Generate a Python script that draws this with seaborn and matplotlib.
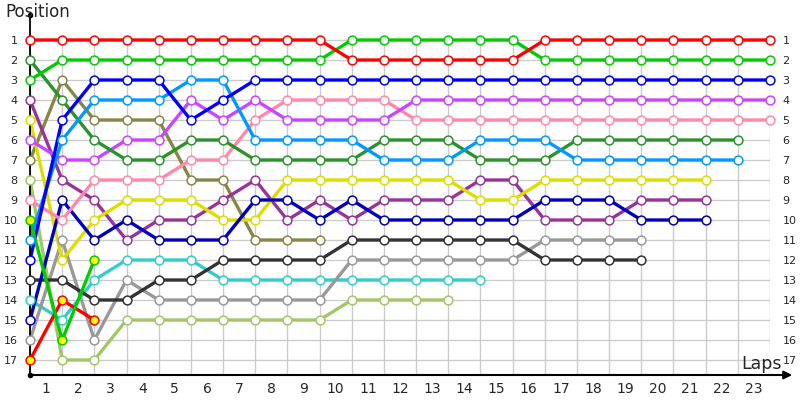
import numpy as np
import pandas as pd
import matplotlib
matplotlib.use('Agg')
import matplotlib.pyplot as plt
import seaborn as sns

sns.set_theme(style='white')
plt.rcParams['font.family'] = ['DejaVu Sans']

# position of each driver at every lap (index 0 = start grid)
red = [1, 1, 1, 1, 1, 1, 1, 1, 1, 1, 2, 2, 2, 2, 2, 2, 1, 1, 1, 1, 1, 1, 1, 1]
green = [3, 2, 2, 2, 2, 2, 2, 2, 2, 2, 1, 1, 1, 1, 1, 1, 2, 2, 2, 2, 2, 2, 2, 2]
blue = [12, 5, 3, 3, 3, 5, 4, 3, 3, 3, 3, 3, 3, 3, 3, 3, 3, 3, 3, 3, 3, 3, 3, 3]
navy = [15, 9, 11, 10, 11, 11, 11, 9, 9, 10, 9, 10, 10, 10, 10, 10, 9, 9, 9, 10, 10, 10]
light_blue = [11, 6, 4, 4, 4, 3, 3, 6, 6, 6, 6, 7, 7, 7, 6, 6, 6, 7, 7, 7, 7, 7, 7]
dark_green = [2, 4, 6, 7, 7, 6, 6, 7, 7, 7, 7, 6, 6, 6, 7, 7, 7, 6, 6, 6, 6, 6, 6]
violet = [6, 7, 7, 6, 6, 4, 5, 4, 5, 5, 5, 5, 4, 4, 4, 4, 4, 4, 4, 4, 4, 4, 4, 4]
pink = [9, 10, 8, 8, 8, 7, 7, 5, 4, 4, 4, 4, 5, 5, 5, 5, 5, 5, 5, 5, 5, 5, 5, 5]
olive = [7, 3, 5, 5, 5, 8, 8, 11, 11, 11]
yellow = [5, 12, 10, 9, 9, 9, 10, 10, 8, 8, 8, 8, 8, 8, 9, 9, 8, 8, 8, 8, 8, 8]
dark_purple = [4, 8, 9, 11, 10, 10, 9, 8, 10, 9, 10, 9, 9, 9, 8, 8, 10, 10, 10, 9, 9, 9]
dark_gray = [13, 13, 14, 14, 13, 13, 12, 12, 12, 12, 11, 11, 11, 11, 11, 11, 12, 12, 12, 12]
gray = [16, 11, 16, 13, 14, 14, 14, 14, 14, 14, 12, 12, 12, 12, 12, 12, 11, 11, 11, 11]
cyan = [14, 15, 13, 12, 12, 12, 13, 13, 13, 13, 13, 13, 13, 13, 13]
light_green = [8, 17, 17, 15, 15, 15, 15, 15, 15, 15, 14, 14, 14, 14]
red_b = [17, 14, 15]
green_b = [10, 16, 12]

drivers = [
    (light_green, '#a0c864', 'white'),
    (cyan, '#33cccc', 'white'),
    (gray, '#999999', 'white'),
    (dark_gray, '#333333', 'white'),
    (olive, '#868648', 'white'),
    (dark_purple, '#993399', 'white'),
    (yellow, '#dddd00', 'white'),
    (navy, '#0000bb', 'white'),
    (pink, '#ff88aa', 'white'),
    (violet, '#cc44ff', 'white'),
    (dark_green, '#2a932a', 'white'),
    (light_blue, '#0099ff', 'white'),
    (blue, '#0000ff', 'white'),
    (green, '#00cc00', 'white'),
    (red, '#ff0000', 'white'),
    (red_b, '#ff0000', '#ffff00'),
    (green_b, '#00cc00', '#ffff00'),
]

n_laps = 23
positions = list(range(1, 18))
lap_labels = [str(i) for i in range(1, n_laps + 1)]

fig = plt.figure(figsize=(8, 4), dpi=100)
ax = fig.add_axes([30 / 800, 25 / 400, 740 / 800, 360 / 400])

# grid
ax.vlines(range(0, n_laps + 1), 0.75, 17.75, color='#cccccc', lw=1, zorder=0)
ax.hlines(positions, 0, n_laps, color='#cccccc', lw=1, zorder=0)

for pos, col, face in drivers:
    laps = list(range(len(pos)))
    sns.lineplot(x=laps, y=pos, color=col, lw=2.4, ax=ax, zorder=2, sort=False,
                 clip_on=False)
for pos, col, face in drivers:
    laps = list(range(len(pos)))
    sns.scatterplot(x=laps, y=pos, s=40, color=face, edgecolor=col,
                    linewidth=1.1, ax=ax, zorder=4, clip_on=False)

ax.set_xlim(0, n_laps)
ax.set_ylim(17.75, -0.25)
ax.set_xlabel('')
ax.set_ylabel('')

ax.set_yticks(positions)
ax.set_yticklabels([str(p) for p in positions], fontsize=8)
ax.tick_params(axis='y', length=0, pad=9, labelright=True, right=False)
ax.set_xticks([i - 0.5 for i in range(1, n_laps + 1)])
ax.set_xticklabels(lap_labels, fontsize=10)
ax.tick_params(axis='x', length=0, pad=5)

for s in ['top', 'right', 'bottom']:
    ax.spines[s].set_visible(False)
ax.spines['left'].set_color('black')
ax.spines['left'].set_linewidth(1.3)

# axis arrow and dots
ax.annotate('', xy=(1.03, 0), xytext=(0, 0), xycoords='axes fraction',
            arrowprops=dict(arrowstyle='-|>', color='black', lw=1.5,
                            mutation_scale=12, shrinkA=0, shrinkB=0),
            annotation_clip=False)
ax.plot([0, 0], [0, 1], 'o', color='black', ms=3, transform=ax.transAxes, clip_on=False)

fig.text(5 / 800, 1 - 17 / 400, 'Position', fontsize=12, va='baseline', ha='left')
fig.text(741 / 800, 1 - 369 / 400, 'Laps', fontsize=12.5, va='baseline', ha='left')

fig.savefig('out.png', dpi=100)
